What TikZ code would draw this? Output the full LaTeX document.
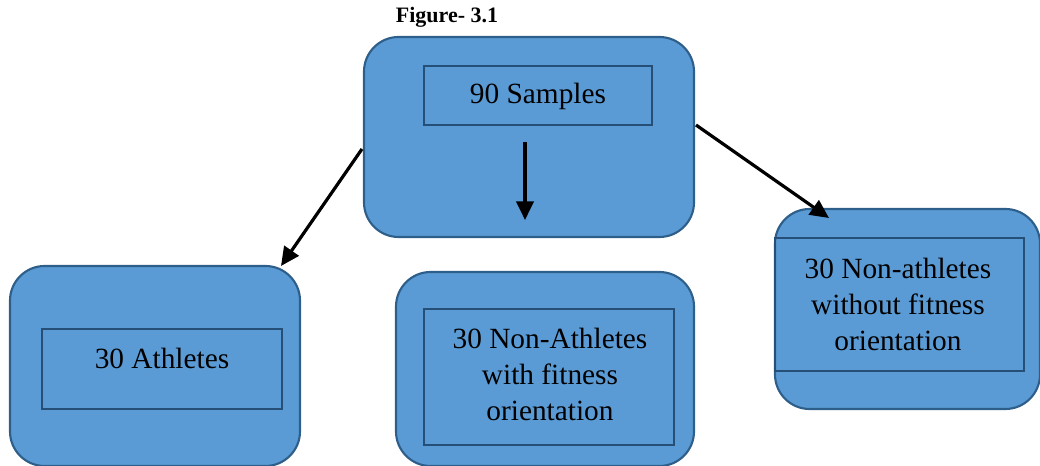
\documentclass[tikz,border=0pt]{standalone}
\usepackage{fontspec}
\setmainfont{Liberation Serif}
\usetikzlibrary{arrows.meta}
\definecolor{boxfill}{HTML}{5B9BD5}
\definecolor{boxline}{HTML}{2E5F8A}
\definecolor{innerline}{HTML}{264F78}
\tikzset{
  outerbox/.style={draw=boxline, fill=boxfill, line width=1.6pt, rounded corners=26pt, inner sep=0pt},
  innerbox/.style={draw=innerline, line width=1.8pt, inner sep=0pt},
  lbl/.style={font=\rmfamily\fontsize{22}{27}\selectfont, align=center, inner sep=0pt, text=black},
  conn/.style={line width=2.4pt, -{Triangle[length=14pt,width=13pt]}},
}
\begin{document}
\begin{tikzpicture}[x=0.75pt,y=-0.75pt]
\useasboundingbox (0,0) rectangle (1040,466);
% title
\node[font=\rmfamily\fontsize{16.5}{18}\selectfont\bfseries, inner sep=0pt] (title) at (447,17) {Figure- 3.1};
% top
\node[outerbox, minimum width=247.5pt, minimum height=150pt] (top) at (529,137) {};
\node[innerbox, minimum width=171pt, minimum height=44.25pt] (topin) at (538,95.5) {};
\node[lbl] (toptxt) at (538,96) {90 Samples};
% left
\node[outerbox, minimum width=217.5pt, minimum height=150pt] (left) at (155,366) {};
\node[innerbox, minimum width=180pt, minimum height=60pt] (leftin) at (162,369) {};
\node[lbl] (lefttxt) at (162,358) {30 Athletes};
% middle
\node[outerbox, minimum width=223.5pt, minimum height=145.5pt] (mid) at (545,369) {};
\node[innerbox, minimum width=187.5pt, minimum height=102pt] (midin) at (549,377) {};
\node[lbl] (midtxt) at (550,374) {30 Non-Athletes\\with fitness\\orientation};
% right
\node[outerbox, minimum width=198.75pt, minimum height=150pt] (right) at (907.5,309) {};
\node[innerbox, minimum width=186.75pt, minimum height=99.75pt] (rightin) at (899.5,304.5) {};
\node[lbl] (righttxt) at (898,304) {30 Non-athletes\\without fitness\\orientation};
% connectors
\coordinate (lstart) at (362,149);
\coordinate (lend) at (281,266);
\coordinate (mstart) at (525,142);
\coordinate (mend) at (525,220);
\coordinate (rstart) at (696,125);
\coordinate (rend) at (829,218);
\draw[conn] (lstart) -- (lend);
\draw[conn] (mstart) -- (mend);
\draw[conn] (rstart) -- (rend);
\end{tikzpicture}
\end{document}
